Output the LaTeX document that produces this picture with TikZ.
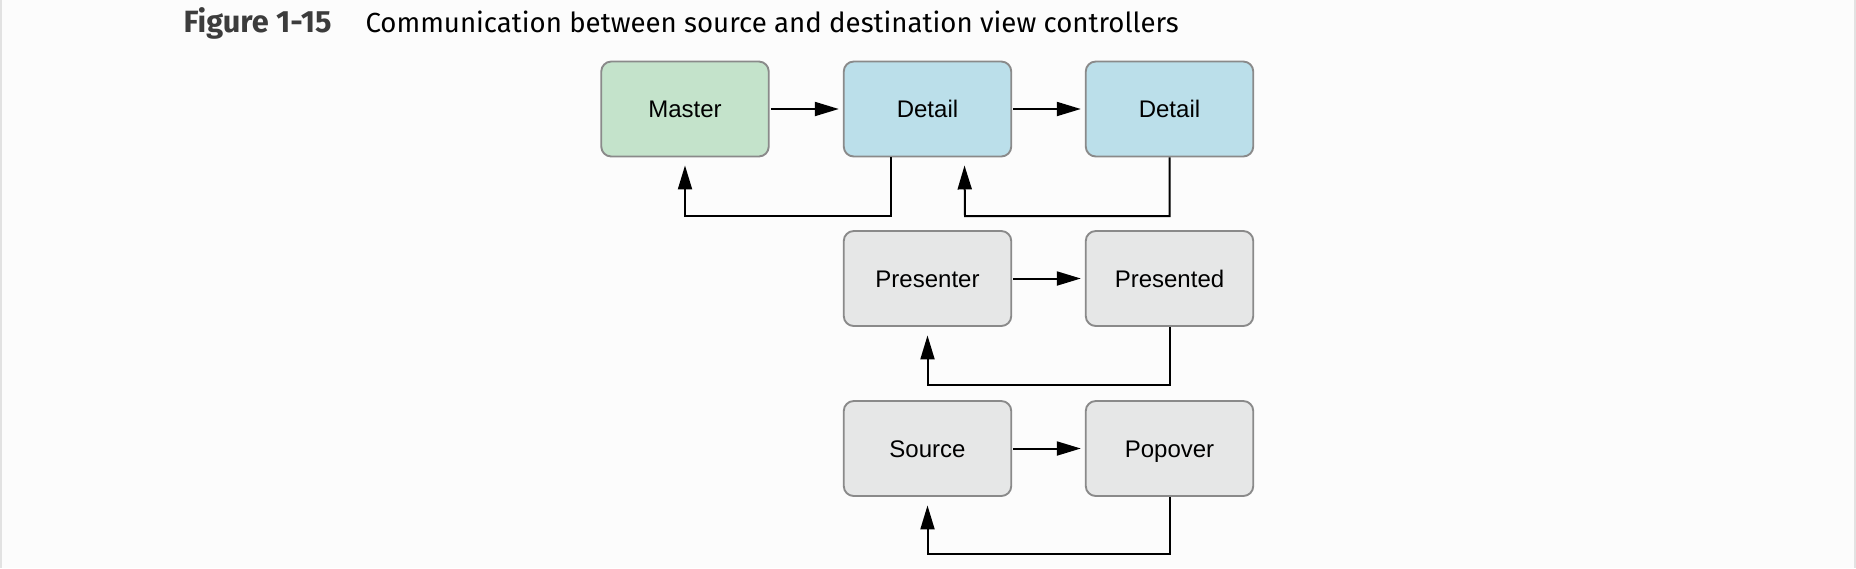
\documentclass[tikz,border=0pt]{standalone}
\usepackage{fontspec}
\setmainfont{Liberation Sans}
\newfontfamily\titlefont{Fira Sans}
\usetikzlibrary{arrows.meta}
\definecolor{bordergrey}{HTML}{8A8A8A}
\definecolor{mastergreen}{HTML}{C4E3CB}
\definecolor{detailblue}{HTML}{BBDFEA}
\definecolor{boxgrey}{HTML}{E6E7E7}
\definecolor{edgegrey}{HTML}{E2E2E2}
\definecolor{titlegrey}{HTML}{3C3C3C}
\begin{document}
\begin{tikzpicture}[x=0.4pt,y=-0.4pt,
  vc/.style={draw=bordergrey, line width=0.75pt, rounded corners=4pt,
    minimum width=67pt, minimum height=38pt, inner sep=0pt,
    text height=6.9pt, text depth=0pt,
    font=\fontsize{9.6}{11}\selectfont},
  link/.style={line width=0.8pt, -{Triangle[length=9.6pt,width=5.6pt]}}]
\useasboundingbox (0,0) rectangle (1856,568);
\fill[white!99!black] (0,0) rectangle (1856,568);
\fill[edgegrey] (0,0) rectangle (2,568);
\fill[edgegrey] (1854,0) rectangle (1856,568);
\node[anchor=base west, inner sep=0pt, font=\titlefont\fontsize{12.3}{14}\selectfont\bfseries, text=titlegrey] (fig) at (183,32) {Figure 1-15};
\node[anchor=base west, inner sep=0pt, font=\titlefont\fontsize{11.05}{13}\selectfont] (cap) at (365,32) {Communication between source and destination view controllers};

\node[vc, fill=mastergreen] (master) at (685,109) {Master};
\node[vc, fill=detailblue] (detA) at (927.5,109) {Detail};
\node[vc, fill=detailblue] (detB) at (1169.5,109) {Detail};
\node[vc, fill=boxgrey] (presenter) at (927.5,278.5) {Presenter};
\node[vc, fill=boxgrey] (presented) at (1169.5,278.5) {Presented};
\node[vc, fill=boxgrey] (source) at (927.5,448.5) {Source};
\node[vc, fill=boxgrey] (popover) at (1169.5,448.5) {Popover};

\draw[link] (master.east) ++(0.5pt,0) -- ([xshift=-1.6pt]detA.west);
\draw[link] (detA.east) ++(0.5pt,0) -- ([xshift=-1.6pt]detB.west);
\draw[link] (presenter.east) ++(0.5pt,0) -- ([xshift=-1.6pt]presented.west);
\draw[link] (source.east) ++(0.5pt,0) -- ([xshift=-1.6pt]popover.west);

\draw[link] ([xshift=-14.8pt]detA.south) |- (685,216) -- ([yshift=-3.2pt]master.south);
\draw[link] (detB.south) |- (965,216) -- ([xshift=14.8pt,yshift=-3.2pt]detA.south);
\draw[link] (presented.south) |- (927.5,385) -- ([yshift=-3.4pt]presenter.south);
\draw[link] (popover.south) |- (927.5,554) -- ([yshift=-3.4pt]source.south);
\end{tikzpicture}
\end{document}
